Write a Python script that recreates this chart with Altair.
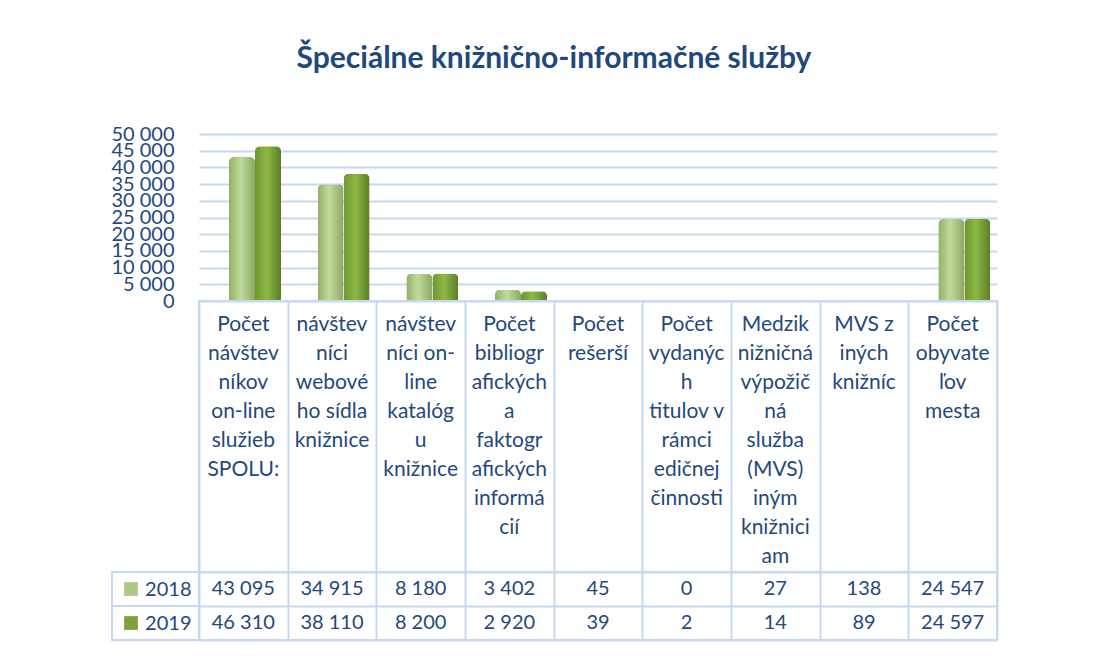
import altair as alt
import pandas as pd

# ---------------- data ----------------
categories = [
    "Počet návštevníkov on-line služieb SPOLU:",
    "návštevníci webového sídla knižnice",
    "návštevníci on-line katalógu knižnice",
    "Počet bibliografických a faktografických informácií",
    "Počet rešerší",
    "Počet vydaných titulov v rámci edičnej činnosti",
    "Medziknižničná výpožičná služba (MVS) iným knižniciam",
    "MVS z iných knižníc",
    "Počet obyvateľov mesta",
]
header_lines = [
    ["Počet", "návštev", "níkov", "on-line", "služieb", "SPOLU:"],
    ["návštev", "níci", "webové", "ho sídla", "knižnice"],
    ["návštev", "níci on-", "line", "katalóg", "u", "knižnice"],
    ["Počet", "bibliogr", "afických", "a", "faktogr", "afických", "informá", "cií"],
    ["Počet", "rešerší"],
    ["Počet", "vydanýc", "h", "titulov v", "rámci", "edičnej", "činnosti"],
    ["Medzik", "nižničná", "výpožič", "ná", "služba", "(MVS)", "iným", "knižnici", "am"],
    ["MVS z", "iných", "knižníc"],
    ["Počet", "obyvate", "ľov", "mesta"],
]
years = ["2018", "2019"]
values_2018 = [43095, 34915, 8180, 3402, 45, 0, 27, 138, 24547]
values_2019 = [46310, 38110, 8200, 2920, 39, 2, 14, 89, 24597]
y_ticks = [0, 5000, 10000, 15000, 20000, 25000, 30000, 35000, 40000, 45000, 50000]
title_text = "Špeciálne knižnično-informačné služby"

# ---------------- styles ----------------
TEXT = "#1F497D"
GRID = "#C6D9F1"
FONT = "Lato"
SW18 = "#AFC987"
SW19 = "#7DA23A"

rows = []
for c, v in zip(categories, values_2018):
    rows.append({"cat": c, "year": "2018", "value": v})
for c, v in zip(categories, values_2019):
    rows.append({"cat": c, "year": "2019", "value": v})
df = pd.DataFrame(rows)
hdf = pd.DataFrame({"cat": categories, "label": ["\n".join(l) for l in header_lines]})
ydf = pd.DataFrame({"year": years})

PLOT_W = 798

xscale = alt.Scale(domain=categories, paddingInner=0, paddingOuter=0)
offscale = alt.Scale(domain=years, paddingInner=0, paddingOuter=0, range=[30, 82])

grad18 = alt.Gradient(
    gradient="linear", x1=0, x2=1, y1=0, y2=0,
    stops=[alt.GradientStop(color="#93AE6A", offset=0),
           alt.GradientStop(color="#C2DB9B", offset=0.45),
           alt.GradientStop(color="#8CA764", offset=1)])
grad19 = alt.Gradient(
    gradient="linear", x1=0, x2=1, y1=0, y2=0,
    stops=[alt.GradientStop(color="#6F9530", offset=0),
           alt.GradientStop(color="#8DB845", offset=0.45),
           alt.GradientStop(color="#5A7F24", offset=1)])

yaxis = alt.Axis(values=y_ticks, format=",d", labelPadding=25, ticks=False,
                 domain=False, grid=True, gridColor=GRID, gridWidth=2, title=None,
                 labelFontSize=20, labelColor=TEXT, labelFont=FONT,
                 labelOverlap=False, labelBound=False)

base = alt.Chart(df).encode(
    x=alt.X("cat:N", scale=xscale, axis=None),
    xOffset=alt.XOffset("year:N", scale=offscale),
    y=alt.Y("value:Q", scale=alt.Scale(domain=[0, 50000], nice=False), axis=yaxis),
)
b18 = base.transform_filter(alt.datum.year == "2018").mark_bar(
    color=grad18, cornerRadiusTopLeft=5, cornerRadiusTopRight=5)
b19 = base.transform_filter(alt.datum.year == "2019").mark_bar(
    color=grad19, cornerRadiusTopLeft=5, cornerRadiusTopRight=5)
A = alt.layer(b18, b19).properties(
    width=PLOT_W, height=167, view=alt.ViewBackground(strokeWidth=0))

gridx = alt.Axis(labels=False, ticks=False, domain=False, grid=True, gridColor=GRID,
                 gridWidth=2, tickBand="extent", title=None)

B = alt.Chart(hdf).mark_text(
    lineBreak="\n", baseline="top", fontSize=21, font=FONT, color=TEXT, lineHeight=29
).encode(
    x=alt.X("cat:N", scale=xscale, axis=gridx),
    y=alt.value(13),
    text="label:N",
).properties(width=PLOT_W, height=271,
             view=alt.ViewBackground(stroke=GRID, strokeWidth=2))

yscale_t = alt.Scale(domain=years, paddingInner=0, paddingOuter=0)
yaxis_t = alt.Axis(title=None, grid=True, gridColor=GRID, gridWidth=2, tickBand="extent",
                   ticks=False, domain=False, labelPadding=8, labelFontSize=20,
                   labelColor=TEXT, labelFont=FONT, zindex=1)

c_text = alt.Chart(df).mark_text(fontSize=20, font=FONT, color=TEXT).encode(
    x=alt.X("cat:N", scale=xscale, axis=gridx),
    y=alt.Y("year:N", scale=yscale_t, axis=yaxis_t),
    text=alt.Text("value:Q", format=",d"),
)
leg_rect = alt.Chart(ydf).mark_rect(fillOpacity=0, stroke=GRID, strokeWidth=2).encode(
    x=alt.value(-87), x2=alt.value(0),
    y=alt.Y("year:N", scale=yscale_t, axis=yaxis_t),
)
swatch = alt.Chart(ydf).mark_square(size=190, opacity=1).encode(
    x=alt.value(-68),
    y=alt.Y("year:N", scale=yscale_t, axis=yaxis_t),
    color=alt.Color("year:N", scale=alt.Scale(domain=years, range=[SW18, SW19]), legend=None),
)
C = alt.layer(leg_rect, c_text, swatch).properties(
    width=PLOT_W, height=68, view=alt.ViewBackground(stroke=GRID, strokeWidth=2))

chart = alt.vconcat(A, B, C, spacing=0, bounds="flush").properties(
    title=alt.Title(title_text, fontSize=30, font=FONT, fontWeight="bold", color=TEXT,
                    anchor="middle", offset=50),
    padding={"left": 102, "top": 36, "right": 80, "bottom": 10},
    background="white",
)

chart.save("out.html", embed_options={
    "renderer": "svg", "actions": False,
    "formatLocale": {"decimal": ",", "thousands": " ", "grouping": [3],
                     "currency": ["", " €"]},
})
